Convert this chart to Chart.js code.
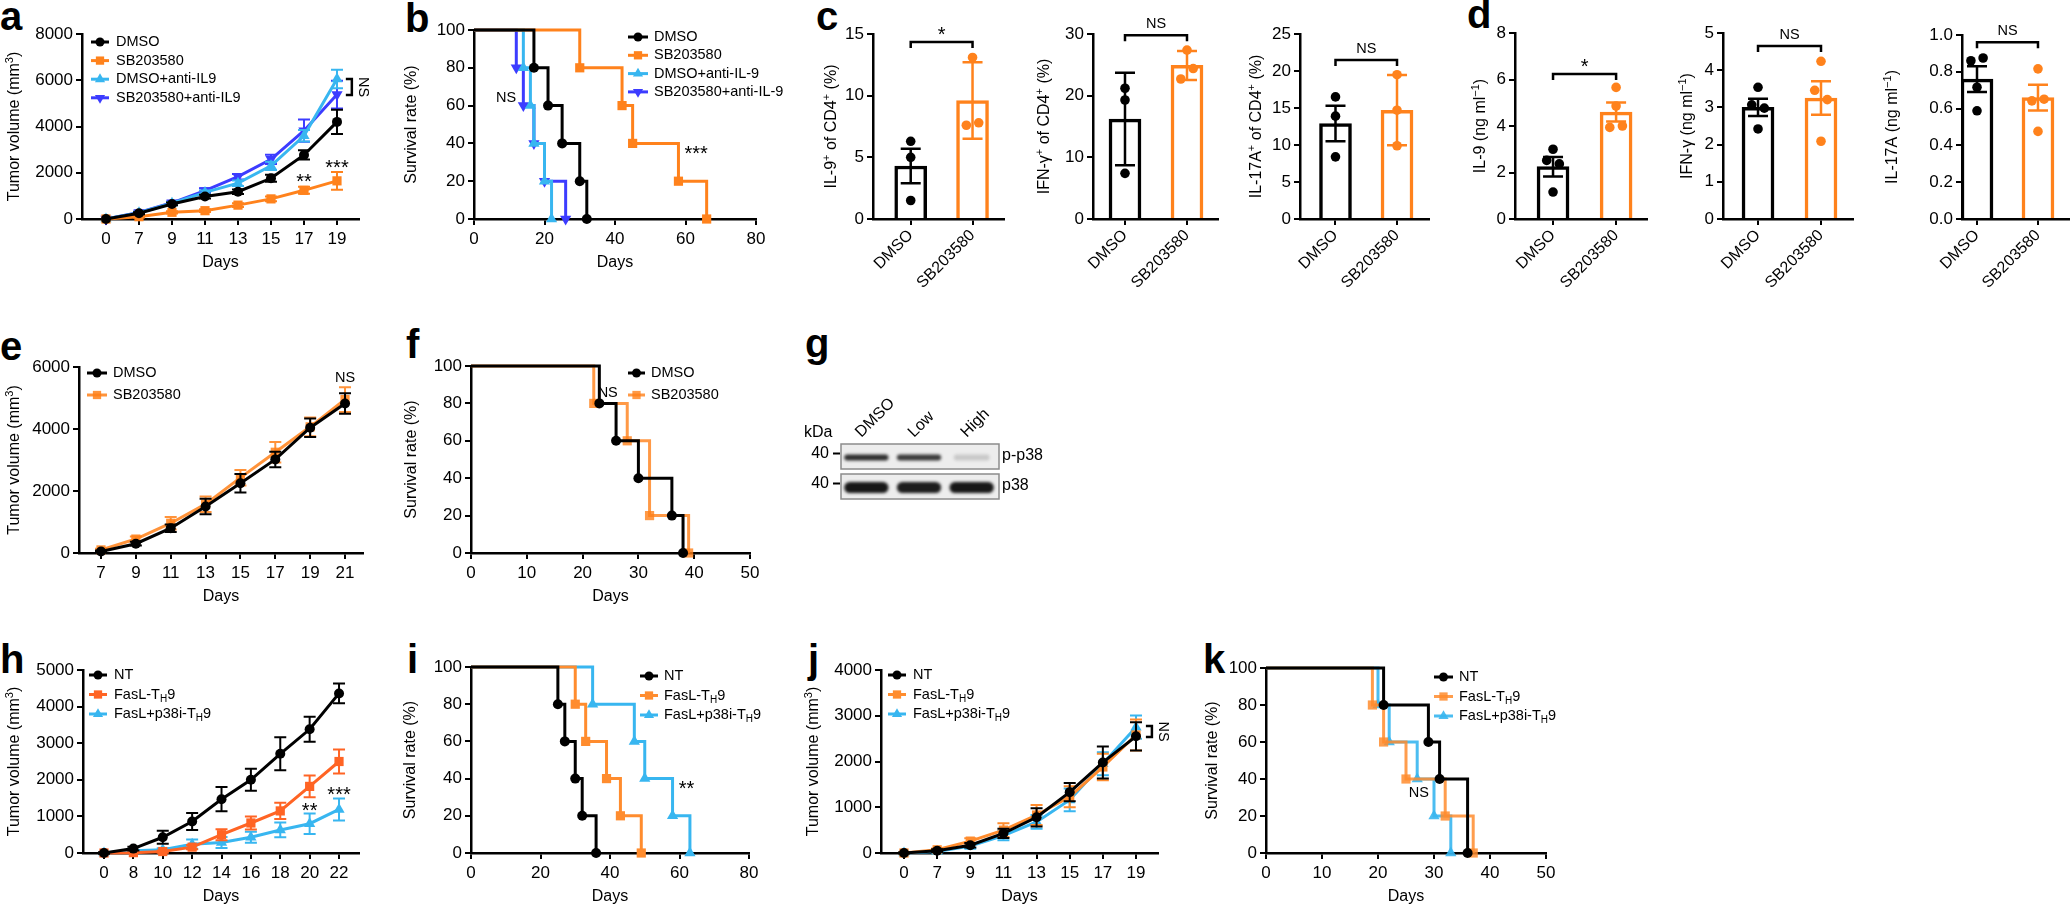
<!DOCTYPE html>
<html>
<head>
<meta charset="utf-8">
<title>SB203580 / p38 tumour figure</title>
<script src="https://cdn.jsdelivr.net/npm/chart.js@4.4.1/dist/chart.umd.min.js"></script>
<style>
  html, body { margin: 0; padding: 0; background: #fff; }
  body { position: relative; width: 2070px; height: 905px; overflow: hidden; font-family: 'Liberation Sans', Arial, sans-serif; }
  canvas { position: absolute; }
  .panel { position: absolute; font-weight: bold; font-size: 40px; line-height: 1; }
</style>
</head>
<body>
<script>
// ---------- data ----------
// a: tumour volume, SB203580 +/- anti-IL9
const daysA = [0, 7, 9, 11, 13, 15, 17, 19];
const aDmso = [0, 250, 650, 970, 1180, 1760, 2770, 4200];
const aDmsoErr = [0, 40, 60, 80, 100, 150, 200, 520];
const aSb = [0, 100, 290, 360, 600, 870, 1240, 1650];
const aSbErr = [0, 30, 50, 60, 80, 100, 150, 380];
const aIl9 = [0, 270, 680, 1150, 1550, 2300, 3600, 6050];
const aIl9Err = [0, 40, 60, 80, 120, 180, 250, 400];
const aSbIl9 = [0, 280, 700, 1230, 1830, 2580, 3820, 5380];
const aSbIl9Err = [0, 40, 60, 100, 120, 200, 480, 600];

// b: survival
const survFive = [100, 80, 60, 40, 20, 0];
const bDmsoDays = [0, 17, 21, 25, 30, 32];
const bSbDays = [0, 30, 42, 45, 58, 66];
const bIl9Days = [0, 14, 16, 17, 20, 22];
const bSbIl9Days = [0, 12, 14, 17, 20, 26];

// c, d: bars (mean, error, individual mice)
const groupsCD = ['DMSO', 'SB203580'];
const c1Mean = [4.3, 9.6], c1Err = [1.4, 3.1], c1Dmso = [6.3, 5.0, 1.5], c1Sb = [13.1, 7.6, 7.8];
const c2Mean = [16.2, 24.9], c2Err = [7.5, 2.35], c2Dmso = [21.2, 19.3, 7.4], c2Sb = [27.4, 22.7, 24.4];
const c3Mean = [12.9, 14.7], c3Err = [2.4, 4.75], c3Dmso = [16.5, 13.9, 8.4], c3Sb = [19.5, 14.7, 9.9];
const d1Mean = [2.25, 4.6], d1Err = [0.42, 0.41], d1Dmso = [3.0, 2.52, 2.37, 1.16], d1Sb = [5.66, 4.86, 3.94, 4.0];
const d2Mean = [3.0, 3.25], d2Err = [0.23, 0.45], d2Dmso = [3.54, 3.07, 2.98, 2.42], d2Sb = [4.24, 3.46, 3.21, 2.09];
const d3Mean = [0.76, 0.66], d3Err = [0.07, 0.07], d3Dmso = [0.86, 0.875, 0.716, 0.588], d3Sb = [0.816, 0.642, 0.651, 0.476];

// e: tumour volume, IL-9 independent model
const daysE = [7, 9, 11, 13, 15, 17, 19, 21];
const eDmso = [50, 300, 800, 1500, 2250, 3020, 4040, 4820];
const eDmsoErr = [30, 60, 120, 250, 300, 250, 300, 330];
const eSb = [100, 450, 960, 1575, 2430, 3250, 4070, 4950];
const eSbErr = [40, 80, 200, 250, 250, 330, 300, 400];

// f: survival
const fDmsoDays = [0, 23, 26, 30, 36, 38];
const fDmsoSurv = [100, 80, 60, 40, 20, 0];
const fSbDays = [0, 22, 28, 32, 39];
const fSbSurv = [100, 80, 60, 20, 0];

// g: blot band strength per lane
const blotLanes = ['DMSO', 'Low', 'High'];
const pp38Level = [0.85, 0.8, 0.16];
const p38Level = [0.95, 0.93, 0.95];

// h: tumour volume after T_H9 transfer
const daysH = [0, 8, 10, 12, 14, 16, 18, 20, 22];
const hNt = [0, 120, 430, 860, 1470, 2000, 2710, 3380, 4360];
const hNtErr = [20, 50, 180, 230, 330, 300, 450, 340, 270];
const hFasl = [0, 10, 40, 160, 500, 820, 1150, 1820, 2500];
const hFaslErr = [10, 10, 30, 60, 150, 180, 220, 300, 330];
const hP38 = [0, 60, 90, 240, 290, 430, 630, 800, 1190];
const hP38Err = [10, 20, 40, 130, 150, 150, 200, 280, 300];

// i: survival
const iNtDays = [0, 25, 27, 30, 32, 36];
const iFaslDays = [0, 30, 33, 39, 43, 49];
const iP38Days = [0, 35, 47, 50, 58, 63];

// j: tumour volume, second model
const daysJ = [0, 7, 9, 11, 13, 15, 17, 19];
const jNt = [0, 50, 170, 430, 780, 1330, 1980, 2550];
const jNtErr = [10, 30, 50, 100, 200, 200, 350, 310];
const jFasl = [0, 70, 260, 500, 830, 1230, 1880, 2580];
const jFaslErr = [10, 30, 60, 150, 220, 230, 290, 340];
const jP38 = [0, 30, 150, 380, 680, 1160, 1950, 2750];
const jP38Err = [10, 20, 50, 100, 150, 250, 250, 255];

// k: survival
const kNtDays = [0, 21, 29, 31, 36];
const kNtSurv = [100, 80, 60, 40, 0];
const kFaslDays = [0, 19, 21, 25, 32, 37];
const kP38Days = [0, 20, 22, 27, 30, 33];

// ---------- style ----------
const FONT = "'Liberation Sans', Arial, 'DejaVu Sans', sans-serif";
const BLACK = '#000000';
const ORANGE = '#ff821c';
const CYAN = '#38b6f0';
const BLUE = '#3c3cff';
const RED_ORANGE = '#ff6424';
const LIGHT_ORANGE = '#ff8c2e';
const PT = 30, PR = 34, YW = 90;

Chart.defaults.font.family = FONT;
Chart.defaults.color = '#000';

// rich text: ^{..} superscript, _{..} subscript
function segs(s) {
  const out = [];
  const re = /([\^_])\{([^}]*)\}/g;
  let m, last = 0;
  while ((m = re.exec(s))) {
    if (m.index > last) out.push({ t: s.slice(last, m.index), k: '' });
    out.push({ t: m[2], k: m[1] });
    last = re.lastIndex;
  }
  if (last < s.length) out.push({ t: s.slice(last), k: '' });
  return out;
}
function rich(ctx, s, x, y, size, align) {
  const parts = segs(s);
  const small = Math.round(size * 0.7);
  let w = 0;
  parts.forEach(p => { ctx.font = (p.k ? small : size) + 'px ' + FONT; p.w = ctx.measureText(p.t).width; w += p.w; });
  let cx = align === 'center' ? x - w / 2 : align === 'right' ? x - w : x;
  ctx.textAlign = 'left';
  ctx.textBaseline = 'middle';
  parts.forEach(p => {
    ctx.font = (p.k ? small : size) + 'px ' + FONT;
    const dy = p.k === '^' ? -size * 0.33 : p.k === '_' ? size * 0.32 : 0;
    ctx.fillText(p.t, cx, y + dy);
    cx += p.w;
  });
}

function marker(ctx, style, x, y, r, rot) {
  ctx.beginPath();
  if (style === 'circle') {
    ctx.arc(x, y, r, 0, Math.PI * 2);
  } else if (style === 'rect') {
    const s = r * Math.SQRT1_2;
    ctx.rect(x - s, y - s, 2 * s, 2 * s);
  } else {
    let a = (rot || 0) * Math.PI / 180;
    ctx.moveTo(x + Math.sin(a) * r, y - Math.cos(a) * r);
    a += 2 * Math.PI / 3;
    ctx.lineTo(x + Math.sin(a) * r, y - Math.cos(a) * r);
    a += 2 * Math.PI / 3;
    ctx.lineTo(x + Math.sin(a) * r, y - Math.cos(a) * r);
    ctx.closePath();
  }
  ctx.fill();
}

// error bars, titles, legends, significance marks
const extras = {
  id: 'extras',
  afterDatasetDraw(chart, args) {
    const ds = chart.data.datasets[args.index];
    if (!ds.errorBars) return;
    const ctx = chart.ctx, ys = chart.scales.y;
    ctx.save();
    ctx.lineWidth = ds.errWidth || 2;
    args.meta.data.forEach((el, i) => {
      const e = ds.errorBars[i];
      if (!e) return;
      const v = ds.data[i].y;
      const c = ds.cap || 6;
      const y1 = ys.getPixelForValue(v + e), y2 = ys.getPixelForValue(v - e);
      ctx.strokeStyle = Array.isArray(ds.errColor) ? ds.errColor[i] : (ds.errColor || ds.borderColor);
      ctx.beginPath();
      ctx.moveTo(el.x, y1); ctx.lineTo(el.x, y2);
      ctx.moveTo(el.x - c, y1); ctx.lineTo(el.x + c, y1);
      ctx.moveTo(el.x - c, y2); ctx.lineTo(el.x + c, y2);
      ctx.stroke();
    });
    ctx.restore();
  },
  afterDraw(chart) {
    const ex = chart.canvas.extras;
    if (!ex) return;
    const ctx = chart.ctx, ca = chart.chartArea, xs = chart.scales.x, ys = chart.scales.y;
    ctx.save();
    ctx.fillStyle = '#000';
    ctx.strokeStyle = '#000';
    if (ex.yTitle) {
      ctx.save();
      ctx.translate(ca.left - ex.yTitleDx, (ca.top + ca.bottom) / 2);
      ctx.rotate(-Math.PI / 2);
      rich(ctx, ex.yTitle, 0, 0, 16, 'center');
      ctx.restore();
    }
    if (ex.xTitle) rich(ctx, ex.xTitle, (ca.left + ca.right) / 2, ca.bottom + 44, 16, 'center');
    if (ex.legend) {
      const lg = ex.legend;
      chart.data.datasets.forEach((ds, i) => {
        if (!ds.legendText) return;
        const y = ca.top + lg.dy + i * lg.sp, x0 = ca.left + lg.dx;
        ctx.strokeStyle = ds.borderColor;
        ctx.lineWidth = 3;
        ctx.beginPath(); ctx.moveTo(x0, y); ctx.lineTo(x0 + lg.len, y); ctx.stroke();
        ctx.fillStyle = ds.borderColor;
        marker(ctx, ds.pointStyle, x0 + lg.len / 2, y, ds.legendR, ds.pointRotation);
        ctx.fillStyle = '#000';
        rich(ctx, ds.legendText, x0 + lg.len + lg.gap, y, 14.5, 'left');
      });
    }
    // significance marks are always black
    ctx.fillStyle = '#000';
    ctx.strokeStyle = '#000';
    const starShift = (t, size) => (/^\*+$/.test(t) ? size * 0.23 : 0);
    (ex.notes || []).forEach(n => {
      const size = n.size || 14.5;
      rich(ctx, n.text, xs.getPixelForValue(n.x), ys.getPixelForValue(n.y) + starShift(n.text, size), size, 'center');
    });
    ctx.lineWidth = 2.5;
    (ex.brackets || []).forEach(b => {
      const x0 = xs.getPixelForValue(b.x0), x1 = xs.getPixelForValue(b.x1), y = ys.getPixelForValue(b.y);
      ctx.beginPath();
      ctx.moveTo(x0, y + 6); ctx.lineTo(x0, y); ctx.lineTo(x1, y); ctx.lineTo(x1, y + 6);
      ctx.stroke();
      const size = /^\*+$/.test(b.text) ? 20 : 14.5;
      rich(ctx, b.text, (x0 + x1) / 2, y - 11 + starShift(b.text, size), size, 'center');
    });
    (ex.vbrackets || []).forEach(b => {
      const x = xs.getPixelForValue(b.x), y0 = ys.getPixelForValue(b.y0), y1 = ys.getPixelForValue(b.y1);
      ctx.beginPath();
      ctx.moveTo(x - 6, y0); ctx.lineTo(x, y0); ctx.lineTo(x, y1); ctx.lineTo(x - 6, y1);
      ctx.stroke();
      ctx.save();
      ctx.translate(x + 11, (y0 + y1) / 2);
      ctx.rotate(Math.PI / 2);
      rich(ctx, b.text, 0, 0, 14.5, 'center');
      ctx.restore();
    });
    ctx.restore();
  }
};

// ---------- builders ----------
function makeCanvas(box, xh) {
  const w = YW + (box.r - box.l) + PR, h = PT + (box.b - box.t) + xh;
  const cv = document.createElement('canvas');
  cv.width = w; cv.height = h;
  cv.style.width = w + 'px'; cv.style.height = h + 'px';
  cv.style.left = (box.l - YW) + 'px';
  cv.style.top = (box.t - PT) + 'px';
  document.body.appendChild(cv);
  cv.xh = xh;
  return cv;
}

function yAxis(max, step, fmt) {
  return {
    type: 'linear', min: 0, max: max,
    ticks: { stepSize: step, font: { size: 17 }, color: '#000', padding: 3, callback: fmt || (v => String(v)) },
    grid: { drawOnChartArea: false, drawTicks: true, tickLength: 6, color: '#000', lineWidth: 2 },
    border: { display: true, color: '#000', width: 2.5 },
    afterFit: s => { s.width = YW; }
  };
}

function xIndex(cv, labels, min, max, rot) {
  return {
    type: 'linear', min: min, max: max, offset: false,
    afterBuildTicks: s => { s.ticks = labels.map((_, i) => ({ value: i })); },
    ticks: { autoSkip: false, callback: v => String(labels[v]), font: { size: rot ? 16 : 17 }, color: '#000',
      padding: rot ? 1 : 4, minRotation: rot || 0, maxRotation: rot || 0 },
    grid: { drawOnChartArea: false, drawTicks: true, tickLength: 6, color: '#000', lineWidth: 2, offset: false },
    border: { display: true, color: '#000', width: 2.5 },
    afterFit: s => { s.height = cv.xh; }
  };
}

function xDays(cv, max, step) {
  return {
    type: 'linear', min: 0, max: max, offset: false,
    ticks: { stepSize: step, font: { size: 17 }, color: '#000', padding: 4, maxRotation: 0 },
    grid: { drawOnChartArea: false, drawTicks: true, tickLength: 6, color: '#000', lineWidth: 2 },
    border: { display: true, color: '#000', width: 2.5 },
    afterFit: s => { s.height = cv.xh; }
  };
}

const R = { circle: 5, rect: 6.5, triangle: 6.5 };

function lineSet(label, vals, errs, color, style, rot) {
  return {
    type: 'line', legendText: label, legendR: R[style] * 0.9,
    data: vals.map((v, i) => ({ x: i, y: v })), errorBars: errs,
    borderColor: color, backgroundColor: color, borderWidth: 3, tension: 0,
    pointStyle: style, pointRotation: rot || 0, pointRadius: R[style],
    pointBackgroundColor: color, pointBorderColor: color, pointBorderWidth: 0, clip: false
  };
}

function survSet(label, days, surv, color, style, rot) {
  return {
    type: 'line', legendText: label, legendR: R[style] * 0.9,
    data: days.map((d, i) => ({ x: d, y: surv[i] })), stepped: true,
    borderColor: color, backgroundColor: color, borderWidth: 3,
    pointStyle: style, pointRotation: rot || 0, pointRadius: days.map((d, i) => (i === 0 ? 0 : R[style])),
    pointBackgroundColor: color, pointBorderColor: color, pointBorderWidth: 0, clip: false
  };
}

function baseOptions(scales) {
  return {
    responsive: false, animation: false, events: [],
    layout: { padding: { top: PT, right: PR, left: 0, bottom: 0 } },
    plugins: { legend: { display: false }, tooltip: { enabled: false } },
    scales: scales
  };
}

function lineChart(box, days, sets, yMax, yStep, ex) {
  const cv = makeCanvas(box, 62);
  cv.extras = ex;
  new Chart(cv, {
    type: 'line',
    data: { datasets: sets },
    options: baseOptions({ x: xIndex(cv, days, box.xMin, box.xMax, 0), y: yAxis(yMax, yStep) }),
    plugins: [extras]
  });
}

function survChart(box, sets, xMax, xStep, ex) {
  const cv = makeCanvas(box, 62);
  cv.extras = ex;
  new Chart(cv, {
    type: 'line',
    data: { datasets: sets },
    options: baseOptions({ x: xDays(cv, xMax, xStep), y: yAxis(100, 20) }),
    plugins: [extras]
  });
}

// spread dots that sit at nearly the same height
function jitter(vals, center, range) {
  const xs = vals.map(() => center);
  const idx = vals.map((v, i) => i).sort((a, b) => vals[b] - vals[a]);
  const gaps = [];
  for (let k = 0; k < idx.length - 1; k++) gaps.push({ k: k, g: (vals[idx[k]] - vals[idx[k + 1]]) / range });
  gaps.sort((p, q) => p.g - q.g);
  const used = new Set();
  gaps.forEach(({ k, g }) => {
    if (g >= 0.06) return;
    const i1 = idx[k], i2 = idx[k + 1];
    if (used.has(i1) || used.has(i2)) return;
    used.add(i1); used.add(i2);
    xs[Math.min(i1, i2)] = center - 0.1;
    xs[Math.max(i1, i2)] = center + 0.1;
  });
  return xs;
}

function barChart(box, yMax, yStep, means, errs, dmsoPts, sbPts, ex, fmt) {
  const cv = makeCanvas(box, 100);
  cv.extras = ex;
  const colors = [BLACK, ORANGE];
  const pts = [];
  [dmsoPts, sbPts].forEach((arr, g) => {
    const xs = jitter(arr, g, yMax);
    arr.forEach((v, i) => pts.push({ x: xs[i], y: v, c: colors[g] }));
  });
  new Chart(cv, {
    type: 'bar',
    data: {
      datasets: [
        { type: 'scatter', data: pts.map(p => ({ x: p.x, y: p.y })), pointRadius: 4.8,
          pointBackgroundColor: pts.map(p => p.c), pointBorderColor: pts.map(p => p.c), pointBorderWidth: 0, clip: false },
        { type: 'bar', data: means.map((m, i) => ({ x: i, y: m })), backgroundColor: '#ffffff',
          borderColor: colors, borderWidth: 3.5, barThickness: 32,
          errorBars: errs, errColor: colors, cap: 10, errWidth: 2.5 }
      ]
    },
    options: baseOptions({ x: xIndex(cv, groupsCD, box.xMin, box.xMax, 45), y: yAxis(yMax, yStep, fmt) }),
    plugins: [extras]
  });
}

function drawBlot() {
  const ox = 780, oy = 370;
  const cv = document.createElement('canvas');
  cv.width = 290; cv.height = 140;
  cv.style.left = ox + 'px'; cv.style.top = oy + 'px';
  cv.style.width = '290px'; cv.style.height = '140px';
  document.body.appendChild(cv);
  const ctx = cv.getContext('2d');
  const boxL = 841 - ox, boxW = 158, laneW = boxW / 3;
  const strips = [
    { top: 444 - oy, h: 25, level: pp38Level, band: 6, name: 'p-p38' },
    { top: 474 - oy, h: 25, level: p38Level, band: 11, name: 'p38' }
  ];
  strips.forEach(s => {
    ctx.fillStyle = '#ededed';
    ctx.fillRect(boxL, s.top, boxW, s.h);
    ctx.save();
    ctx.beginPath(); ctx.rect(boxL, s.top, boxW, s.h); ctx.clip();
    ctx.filter = 'blur(1.6px)';
    s.level.forEach((lv, i) => {
      const cx = boxL + laneW * (i + 0.5) - 1, cy = s.top + s.h / 2 + 1;
      const hw = laneW * (lv < 0.3 ? 0.34 : 0.42);
      ctx.fillStyle = 'rgba(12,12,12,' + lv + ')';
      ctx.beginPath();
      ctx.roundRect(cx - hw, cy - s.band / 2, 2 * hw, s.band, s.band / 2);
      ctx.fill();
    });
    ctx.restore();
    ctx.strokeStyle = '#8c8c8c'; ctx.lineWidth = 1.5;
    ctx.strokeRect(boxL, s.top, boxW, s.h);
    // size marker
    const my = s.top + s.h / 2 - 3;
    ctx.strokeStyle = '#000'; ctx.lineWidth = 2;
    ctx.beginPath(); ctx.moveTo(boxL - 8, my); ctx.lineTo(boxL - 1, my); ctx.stroke();
    ctx.fillStyle = '#000';
    rich(ctx, '40', boxL - 12, my, 16, 'right');
    rich(ctx, s.name, boxL + boxW + 3, s.top + s.h / 2 - 1, 16, 'left');
  });
  ctx.fillStyle = '#000';
  rich(ctx, 'kDa', 804 - ox, 433 - oy, 16, 'left');
  blotLanes.forEach((name, i) => {
    ctx.save();
    ctx.translate(boxL + laneW * (i + 0.5) - 6, 438 - oy);
    ctx.rotate(-Math.PI / 4);
    ctx.font = '16px ' + FONT;
    ctx.textAlign = 'left'; ctx.textBaseline = 'alphabetic';
    ctx.fillText(name, 0, 0);
    ctx.restore();
  });
}

// ---------- panels ----------
const panelLetters = [['a', 0, 30], ['b', 405, 32], ['c', 816, 30], ['d', 1467, 28], ['e', 0, 360], ['f', 406, 358],
  ['g', 805, 357], ['h', 0, 673], ['i', 407, 673], ['j', 808, 673], ['k', 1203, 673]];
panelLetters.forEach(([t, x, base]) => {
  const d = document.createElement('div');
  d.className = 'panel';
  d.textContent = t;
  d.style.left = x + 'px';
  d.style.top = (base - 34) + 'px';
  document.body.appendChild(d);
});

// a
lineChart({ l: 82, t: 34, r: 359, b: 219, xMin: -0.727, xMax: 7.667 }, daysA, [
  lineSet('DMSO', aDmso, aDmsoErr, BLACK, 'circle'),
  lineSet('SB203580', aSb, aSbErr, ORANGE, 'rect'),
  lineSet('DMSO+anti-IL9', aIl9, aIl9Err, CYAN, 'triangle'),
  lineSet('SB203580+anti-IL9', aSbIl9, aSbIl9Err, BLUE, 'triangle', 180)
], 8000, 2000, {
  yTitle: 'Tumor volume (mm^{3})', yTitleDx: 67, xTitle: 'Days',
  legend: { dx: 9, dy: 8, sp: 18.6, len: 18, gap: 7 },
  notes: [{ x: 6, y: 1773, text: '**', size: 20 }, { x: 7, y: 2378, text: '***', size: 20 }],
  vbrackets: [{ x: 7.45, y0: 6054, y1: 5362, text: 'NS' }]
});

// b
survChart({ l: 474, t: 30, r: 756, b: 219 }, [
  survSet('DMSO', bDmsoDays, survFive, BLACK, 'circle'),
  survSet('SB203580', bSbDays, survFive, ORANGE, 'rect'),
  survSet('DMSO+anti-IL-9', bIl9Days, survFive, CYAN, 'triangle'),
  survSet('SB203580+anti-IL-9', bSbIl9Days, survFive, BLUE, 'triangle', 180)
], 80, 20, {
  yTitle: 'Survival rate (%)', yTitleDx: 62, xTitle: 'Days',
  legend: { dx: 154, dy: 7, sp: 18.3, len: 20, gap: 6 },
  notes: [{ x: 9.1, y: 64, text: 'NS' }, { x: 63, y: 36.5, text: '***', size: 20 }]
});

// c
barChart({ l: 873, t: 34, r: 1004, b: 219, xMin: -0.61, xMax: 1.509 }, 15, 5, c1Mean, c1Err, c1Dmso, c1Sb,
  { yTitle: 'IL-9^{+} of CD4^{+} (%)', yTitleDx: 41, brackets: [{ x0: 0, x1: 1, y: 14.35, text: '*' }] });
barChart({ l: 1093, t: 34, r: 1218, b: 219, xMin: -0.516, xMax: 1.5 }, 30, 10, c2Mean, c2Err, c2Dmso, c2Sb,
  { yTitle: 'IFN-γ^{+} of CD4^{+} (%)', yTitleDx: 48, brackets: [{ x0: 0, x1: 1, y: 29.8, text: 'NS' }] });
barChart({ l: 1300, t: 34, r: 1429, b: 219, xMin: -0.577, xMax: 1.52 }, 25, 5, c3Mean, c3Err, c3Dmso, c3Sb,
  { yTitle: 'IL-17A^{+} of CD4^{+} (%)', yTitleDx: 43, brackets: [{ x0: 0, x1: 1, y: 21.5, text: 'NS' }] });

// d
barChart({ l: 1515, t: 33, r: 1647, b: 219, xMin: -0.603, xMax: 1.49 }, 8, 2, d1Mean, d1Err, d1Dmso, d1Sb,
  { yTitle: 'IL-9 (ng ml^{−1})', yTitleDx: 34, brackets: [{ x0: 0, x1: 1, y: 6.24, text: '*' }] });
barChart({ l: 1723, t: 33, r: 1853, b: 219, xMin: -0.556, xMax: 1.508 }, 5, 1, d2Mean, d2Err, d2Dmso, d2Sb,
  { yTitle: 'IFN-γ (ng ml^{−1})', yTitleDx: 35, brackets: [{ x0: 0, x1: 1, y: 4.65, text: 'NS' }] });
barChart({ l: 1962, t: 35, r: 2070, b: 219, xMin: -0.246, xMax: 1.525 }, 1, 0.2, d3Mean, d3Err, d3Dmso, d3Sb,
  { yTitle: 'IL-17A (ng ml^{−1})', yTitleDx: 69, brackets: [{ x0: 0, x1: 1, y: 0.96, text: 'NS' }] },
  v => v.toFixed(1));

// e
lineChart({ l: 79, t: 367, r: 363, b: 553, xMin: -0.631, xMax: 7.516 }, daysE, [
  lineSet('DMSO', eDmso, eDmsoErr, BLACK, 'circle'),
  lineSet('SB203580', eSb, eSbErr, 'rgba(255,128,24,0.85)', 'rect')
], 6000, 2000, {
  yTitle: 'Tumor volume (mm^{3})', yTitleDx: 64, xTitle: 'Days',
  legend: { dx: 8, dy: 6, sp: 22, len: 20, gap: 6 },
  notes: [{ x: 7, y: 5645, text: 'NS' }]
});

// f
survChart({ l: 471, t: 366, r: 750, b: 553 }, [
  survSet('DMSO', fDmsoDays, fDmsoSurv, BLACK, 'circle'),
  survSet('SB203580', fSbDays, fSbSurv, 'rgba(255,128,24,0.8)', 'rect')
], 50, 10, {
  yTitle: 'Survival rate (%)', yTitleDx: 59, xTitle: 'Days',
  legend: { dx: 157, dy: 7, sp: 22, len: 17, gap: 6 },
  notes: [{ x: 24.5, y: 85.5, text: 'NS' }]
});

// g
drawBlot();

// h
lineChart({ l: 83, t: 670, r: 359, b: 853, xMin: -0.715, xMax: 8.68 }, daysH, [
  lineSet('NT', hNt, hNtErr, BLACK, 'circle'),
  lineSet('FasL-T_{H}9', hFasl, hFaslErr, RED_ORANGE, 'rect'),
  lineSet('FasL+p38i-T_{H}9', hP38, hP38Err, CYAN, 'triangle')
], 5000, 1000, {
  yTitle: 'Tumor volume (mm^{3})', yTitleDx: 68, xTitle: 'Days',
  legend: { dx: 6, dy: 5, sp: 19.5, len: 18, gap: 7 },
  notes: [{ x: 7, y: 1257, text: '**', size: 20 }, { x: 8, y: 1694, text: '***', size: 20 }]
});

// i
survChart({ l: 471, t: 667, r: 749, b: 853 }, [
  survSet('NT', iNtDays, survFive, BLACK, 'circle'),
  survSet('FasL-T_{H}9', iFaslDays, survFive, LIGHT_ORANGE, 'rect'),
  survSet('FasL+p38i-T_{H}9', iP38Days, survFive, CYAN, 'triangle')
], 80, 20, {
  yTitle: 'Survival rate (%)', yTitleDx: 60, xTitle: 'Days',
  legend: { dx: 169, dy: 9, sp: 19.5, len: 18, gap: 6 },
  notes: [{ x: 62, y: 36.6, text: '**', size: 20 }]
});

// j
lineChart({ l: 881, t: 670, r: 1158, b: 853, xMin: -0.694, xMax: 7.664 }, daysJ, [
  lineSet('NT', jNt, jNtErr, BLACK, 'circle'),
  lineSet('FasL-T_{H}9', jFasl, jFaslErr, LIGHT_ORANGE, 'rect'),
  lineSet('FasL+p38i-T_{H}9', jP38, jP38Err, CYAN, 'triangle')
], 4000, 1000, {
  yTitle: 'Tumor volume (mm^{3})', yTitleDx: 67, xTitle: 'Days',
  legend: { dx: 7, dy: 5, sp: 19.5, len: 18, gap: 7 },
  vbrackets: [{ x: 7.48, y0: 2776, y1: 2536, text: 'NS' }]
});

// k
survChart({ l: 1266, t: 668, r: 1546, b: 853 }, [
  survSet('NT', kNtDays, kNtSurv, BLACK, 'circle'),
  survSet('FasL-T_{H}9', kFaslDays, survFive, 'rgba(255,140,46,0.85)', 'rect'),
  survSet('FasL+p38i-T_{H}9', kP38Days, survFive, 'rgba(56,182,240,0.9)', 'triangle')
], 50, 10, {
  yTitle: 'Survival rate (%)', yTitleDx: 53, xTitle: 'Days',
  legend: { dx: 168, dy: 9, sp: 19.5, len: 19, gap: 6 },
  notes: [{ x: 27.3, y: 32.4, text: 'NS' }]
});
</script>
</body>
</html>
